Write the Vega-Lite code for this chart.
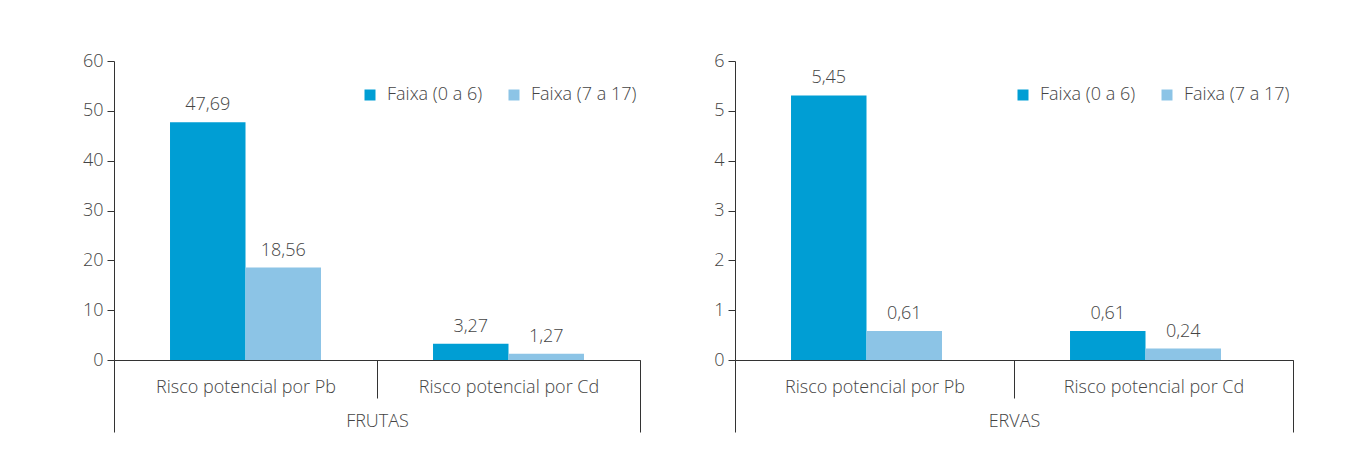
{
  "$schema": "https://vega.github.io/schema/vega-lite/v6.json",
  "padding": {"left": 82, "top": 52, "right": 5, "bottom": 5},
  "background": "white",
  "config": {
    "font": "Open Sans",
    "view": {"stroke": null},
    "axis": {
      "domainColor": "#333333",
      "tickColor": "#333333",
      "labelColor": "#444444",
      "labelFont": "Open Sans",
      "labelFontWeight": 300,
      "labelFontSize": 18,
      "labelLimit": 0,
      "labelOverlap": false,
      "grid": false,
      "title": null
    },
    "legend": {
      "labelFont": "Open Sans",
      "labelFontWeight": 300,
      "labelFontSize": 18,
      "labelColor": "#444444"
    }
  },
  "datasets": {
    "frutas": [
      {"cat": "Risco potencial por Pb", "faixa": "Faixa (0 a 6)", "value": 47.69, "label": "47,69", "grupo": "FRUTAS"},
      {"cat": "Risco potencial por Pb", "faixa": "Faixa (7 a 17)", "value": 18.56, "label": "18,56", "grupo": "FRUTAS"},
      {"cat": "Risco potencial por Cd", "faixa": "Faixa (0 a 6)", "value": 3.27, "label": "3,27", "grupo": "FRUTAS"},
      {"cat": "Risco potencial por Cd", "faixa": "Faixa (7 a 17)", "value": 1.27, "label": "1,27", "grupo": "FRUTAS"}
    ],
    "ervas": [
      {"cat": "Risco potencial por Pb", "faixa": "Faixa (0 a 6)", "value": 5.31, "label": "5,45", "grupo": "ERVAS"},
      {"cat": "Risco potencial por Pb", "faixa": "Faixa (7 a 17)", "value": 0.58, "label": "0,61", "grupo": "ERVAS"},
      {"cat": "Risco potencial por Cd", "faixa": "Faixa (0 a 6)", "value": 0.58, "label": "0,61", "grupo": "ERVAS"},
      {"cat": "Risco potencial por Cd", "faixa": "Faixa (7 a 17)", "value": 0.23, "label": "0,24", "grupo": "ERVAS"}
    ]
  },
  "spacing": 72,
  "resolve": {"legend": {"color": "independent"}},
  "hconcat": [
    {
      "data": {"name": "frutas"},
      "width": 526,
      "height": 299,
      "layer": [
        {
          "encoding": {
            "x": {
              "field": "cat", "type": "nominal", "sort": null,
              "scale": {"paddingInner": 0, "paddingOuter": 0},
              "axis": {"orient": "bottom", "labelAngle": 0, "tickBand": "extent", "tickSize": 38, "labelPadding": -20, "labelBaseline": "top", "title": null}
            },
            "xOffset": {"field": "faixa", "type": "nominal", "sort": null, "scale": {"paddingInner": 0, "paddingOuter": 0.742}},
            "y": {
              "field": "value", "type": "quantitative",
              "scale": {"domain": [0, 60], "nice": false},
              "axis": {"values": [0, 10, 20, 30, 40, 50, 60], "tickSize": 7, "labelPadding": 4, "title": null}
            }
          },
          "layer": [
            {
              "mark": {"type": "bar"},
              "encoding": {
                "color": {
                  "field": "faixa", "type": "nominal", "sort": null,
                  "scale": {"domain": ["Faixa (0 a 6)", "Faixa (7 a 17)"], "range": ["#009ED4", "#8CC4E6"]},
                  "legend": {"title": null, "orient": "none", "legendX": 247, "legendY": 25, "direction": "horizontal", "symbolType": "square", "symbolSize": 121, "symbolStrokeWidth": 0, "labelOffset": 8, "columnPadding": 22, "padding": 0}
                }
              }
            },
            {
              "mark": {"type": "text", "dy": -8, "baseline": "bottom", "fontSize": 18, "fontWeight": 300, "color": "#444444"},
              "encoding": {"text": {"field": "label"}}
            }
          ]
        },
        {
          "mark": {"type": "point", "opacity": 0},
          "encoding": {
            "x": {
              "field": "grupo", "type": "nominal",
              "scale": {"type": "band", "paddingInner": 0, "paddingOuter": 0},
              "axis": {"orient": "bottom", "labelAngle": 0, "domain": false, "tickBand": "extent", "tickSize": 72, "labelPadding": -20, "labelBaseline": "top", "title": null}
            }
          }
        }
      ],
      "resolve": {"scale": {"x": "independent"}, "axis": {"x": "independent"}}
    },
    {
      "data": {"name": "ervas"},
      "width": 558,
      "height": 299,
      "layer": [
        {
          "encoding": {
            "x": {
              "field": "cat", "type": "nominal", "sort": null,
              "scale": {"paddingInner": 0, "paddingOuter": 0},
              "axis": {"orient": "bottom", "labelAngle": 0, "tickBand": "extent", "tickSize": 38, "labelPadding": -20, "labelBaseline": "top", "title": null}
            },
            "xOffset": {"field": "faixa", "type": "nominal", "sort": null, "scale": {"paddingInner": 0, "paddingOuter": 0.742}},
            "y": {
              "field": "value", "type": "quantitative",
              "scale": {"domain": [0, 6], "nice": false},
              "axis": {"values": [0, 1, 2, 3, 4, 5, 6], "tickSize": 7, "labelPadding": 4, "title": null}
            }
          },
          "layer": [
            {
              "mark": {"type": "bar"},
              "encoding": {
                "color": {
                  "field": "faixa", "type": "nominal", "sort": null,
                  "scale": {"domain": ["Faixa (0 a 6)", "Faixa (7 a 17)"], "range": ["#009ED4", "#8CC4E6"]},
                  "legend": {"title": null, "orient": "none", "legendX": 279, "legendY": 25, "direction": "horizontal", "symbolType": "square", "symbolSize": 121, "symbolStrokeWidth": 0, "labelOffset": 8, "columnPadding": 22, "padding": 0}
                }
              }
            },
            {
              "mark": {"type": "text", "dy": -8, "baseline": "bottom", "fontSize": 18, "fontWeight": 300, "color": "#444444"},
              "encoding": {"text": {"field": "label"}}
            }
          ]
        },
        {
          "mark": {"type": "point", "opacity": 0},
          "encoding": {
            "x": {
              "field": "grupo", "type": "nominal",
              "scale": {"type": "band", "paddingInner": 0, "paddingOuter": 0},
              "axis": {"orient": "bottom", "labelAngle": 0, "domain": false, "tickBand": "extent", "tickSize": 72, "labelPadding": -20, "labelBaseline": "top", "title": null}
            }
          }
        }
      ],
      "resolve": {"scale": {"x": "independent"}, "axis": {"x": "independent"}}
    }
  ]
}
